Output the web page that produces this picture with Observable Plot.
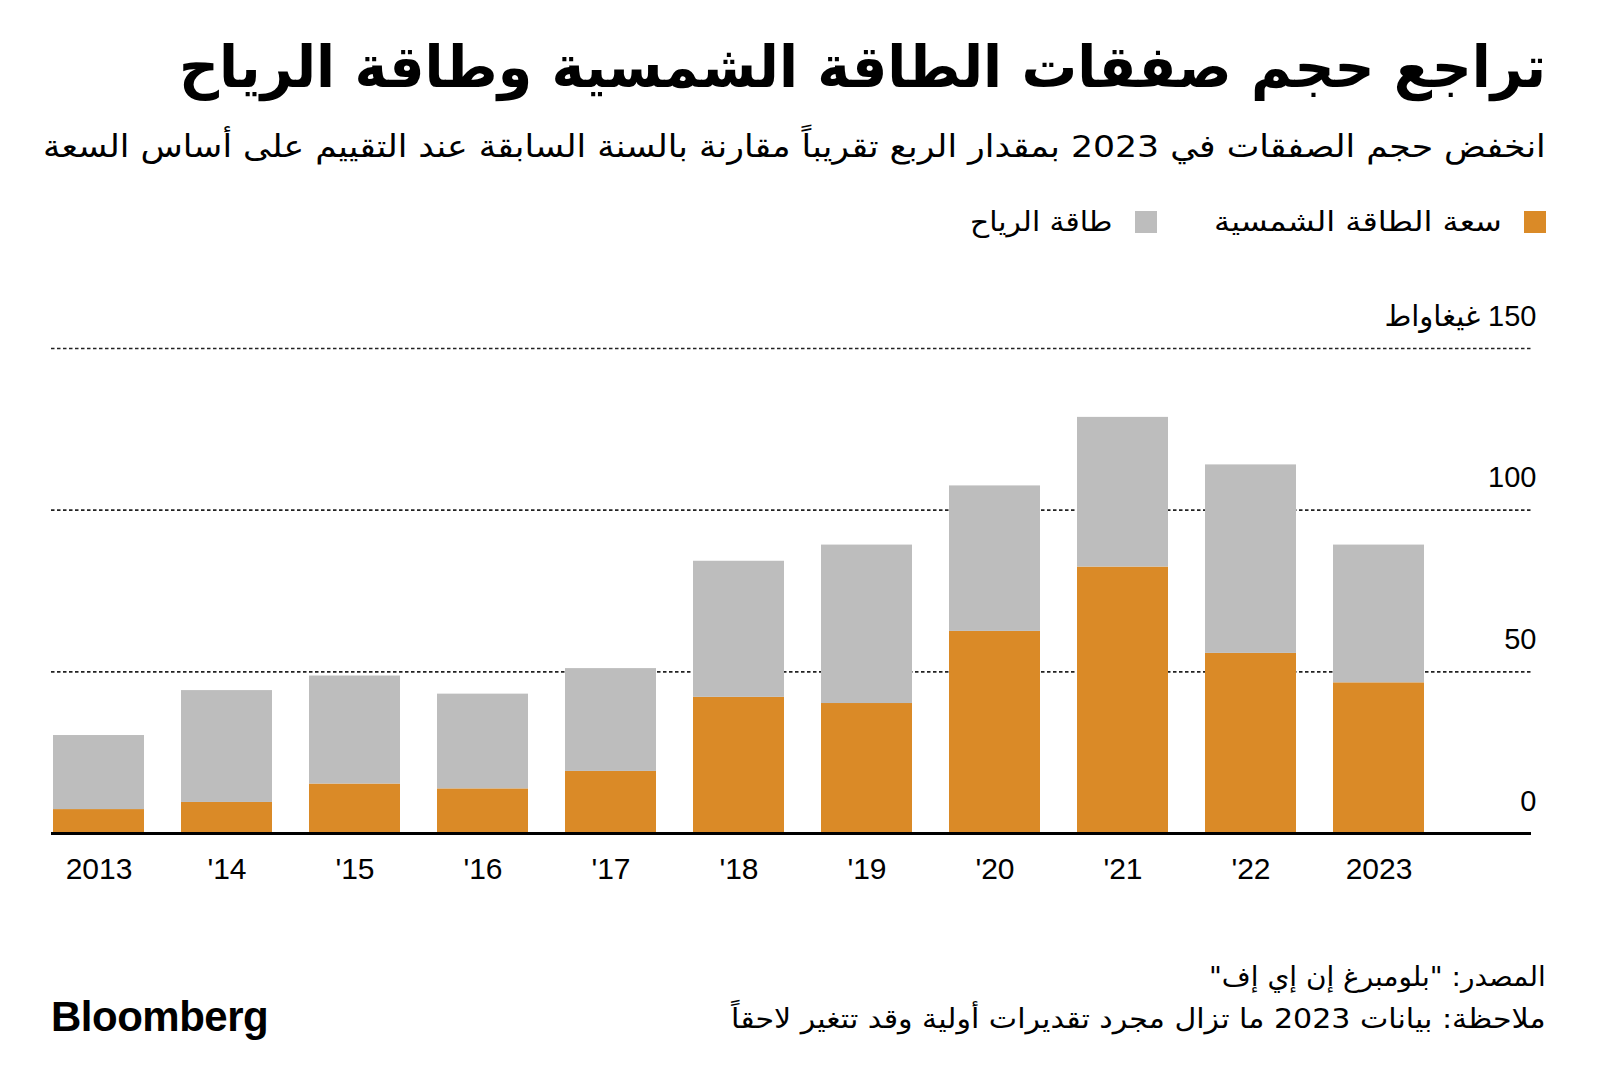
<!DOCTYPE html>
<html>
<head>
<meta charset="utf-8">
<script src="https://cdn.jsdelivr.net/npm/d3@7"></script>
<script src="https://cdn.jsdelivr.net/npm/@observablehq/plot@0.6"></script>
<style>
  html, body { margin: 0; padding: 0; background: #fff; }
  body { width: 1600px; height: 1092px; position: relative; overflow: hidden; color: #000;
         font-family: "DejaVu Sans", "Noto Sans Arabic", sans-serif; }
  .rtl { position: absolute; direction: rtl; text-align: right; white-space: nowrap; line-height: 1;
         display: inline-block; transform-origin: right center; }
  #title { right: 54px; top: 38px; font-size: 58px; font-weight: bold; }
  #subtitle { right: 54px; top: 131px; font-size: 31px; }
  .sw { position: absolute; width: 22px; height: 22px; top: 211px; }
  .leglabel { top: 208px; font-size: 27px; }
  #source { right: 54px; top: 963px; font-size: 27px; }
  #note { right: 54px; top: 1005px; font-size: 27px; }
  #logo { position: absolute; left: 51px; top: 996px; font-family: "Liberation Sans", Arial, sans-serif;
          font-weight: bold; font-size: 42px; letter-spacing: -0.5px; line-height: 1; }
  #chart { position: absolute; left: 0; top: 270px; }
</style>
</head>
<body>
<div id="title" class="rtl">تراجع حجم صفقات الطاقة الشمسية وطاقة الرياح</div>
<div id="subtitle" class="rtl">انخفض حجم الصفقات في 2023 بمقدار الربع تقريباً مقارنة بالسنة السابقة عند التقييم على أساس السعة</div>
<div id="legend"></div>
<div id="chart"></div>
<div id="source" class="rtl">المصدر: "بلومبرغ إن إي إف"</div>
<div id="note" class="rtl">ملاحظة: بيانات 2023 ما تزال مجرد تقديرات أولية وقد تتغير لاحقاً</div>
<div id="logo">Bloomberg</div>
<script>
// ---- data ----
const years = ["2013", "'14", "'15", "'16", "'17", "'18", "'19", "'20", "'21", "'22", "2023"];
const solar = [7.4, 9.6, 15.3, 13.8, 19.2, 42.1, 40.2, 62.5, 82.4, 55.7, 46.6];
const wind  = [22.9, 34.6, 33.4, 29.3, 31.8, 42.1, 49.0, 45.0, 46.3, 58.3, 42.6];
const seriesNames = ["سعة الطاقة الشمسية", "طاقة الرياح"];
const seriesColors = ["#DA8A27", "#BDBDBD"];
const yTicks = [0, 50, 100, 150];
const yUnit = "غيغاواط";

// long table for stacking
const table = [];
years.forEach((y, i) => table.push({year: y, series: seriesNames[0], value: solar[i]}));
years.forEach((y, i) => table.push({year: y, series: seriesNames[1], value: wind[i]}));

// stretch a text horizontally to the width it has in the reference layout
function fitWidth(el, target) {
  const w = el.offsetWidth;
  if (w > 0) el.style.transform = `scaleX(${target / w})`;
}

// legend (swatch left positions / label right offsets)
const legend = document.getElementById("legend");
const legendLayout = [
  {swLeft: 1524, labelRight: 98, labelWidth: 288},
  {swLeft: 1135, labelRight: 488, labelWidth: 142}
];
seriesNames.forEach((name, i) => {
  const sw = document.createElement("div");
  sw.className = "sw";
  sw.style.left = legendLayout[i].swLeft + "px";
  sw.style.background = seriesColors[i];
  legend.appendChild(sw);
  const label = document.createElement("div");
  label.className = "rtl leglabel";
  label.style.right = legendLayout[i].labelRight + "px";
  label.textContent = name;
  legend.appendChild(label);
  fitWidth(label, legendLayout[i].labelWidth);
});

fitWidth(document.getElementById("title"), 1367);
fitWidth(document.getElementById("subtitle"), 1503);
fitWidth(document.getElementById("source"), 337);
fitWidth(document.getElementById("note"), 815);

const chart = Plot.plot({
  width: 1600,
  height: 660,
  marginLeft: 51,
  marginRight: 69,
  marginTop: 78,
  marginBottom: 97,
  style: {fontFamily: "'Liberation Sans', 'DejaVu Sans', 'Noto Sans Arabic', sans-serif", color: "#000", background: "transparent"},
  x: {type: "band", domain: years, range: [52, 1425], paddingInner: 0.29, paddingOuter: 0},
  y: {domain: [0, 150], axis: null},
  color: {domain: seriesNames, range: seriesColors},
  marks: [
    Plot.ruleY(yTicks.filter(d => d > 0), {stroke: "#222", strokeWidth: 1.7, strokeDasharray: "3.5,2.5"}),
    Plot.barY(table, {x: "year", y: "value", fill: "series", order: seriesNames}),
    Plot.ruleY([0], {stroke: "#000", strokeWidth: 3}),
    Plot.axisX({tickSize: 0, tickPadding: 24, fontSize: 30, label: null}),
    Plot.text(yTicks, {
      y: d => d,
      text: d => d === 150 ? "\u200F" + d + " " + yUnit : String(d),
      frameAnchor: "right", textAnchor: "end", lineAnchor: "middle",
      dx: 5, dy: -32, fontSize: 29, fill: "#000"
    })
  ]
});
document.getElementById("chart").appendChild(chart);
</script>
</body>
</html>
